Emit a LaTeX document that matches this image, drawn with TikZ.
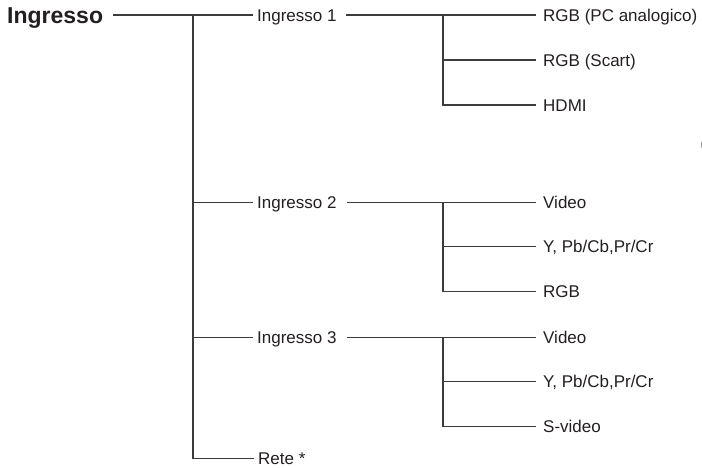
\documentclass[tikz,border=0pt]{standalone}
\usepackage{fontspec}
\setmainfont{Liberation Sans}
\definecolor{mltext}{RGB}{35,31,32}
\definecolor{mlline}{RGB}{60,60,60}
\usetikzlibrary{positioning,calc}

\begin{document}
\begin{tikzpicture}[x=1pt, y=-1pt,
    root/.style={anchor=west, inner sep=0pt, text=mltext, text height=16.5pt, text depth=0pt,
                 font=\fontsize{23}{26}\selectfont\bfseries},
    item/.style={anchor=west, inner ysep=0pt, inner xsep=4pt, text=mltext, text height=12.2pt, text depth=0pt,
                 font=\fontsize{17}{20}\selectfont},
    leaf/.style={item, inner xsep=7pt},
    conn/.style={line width=1.1pt, mlline}
  ]
    \useasboundingbox (0,0) rectangle (702,467);

    % Root
    \node[root] (ing) at (7,15) {Ingresso};
    \coordinate (trk) at (193,15);

    % Ingresso 1
    \node[item] (in1)  at (253,15)    {Ingresso 1};
    \coordinate (br1) at (443,15);
    \node[leaf] (pca)  at (536,15)    {RGB (PC analogico)};
    \node[leaf] (sca)  at (536,60)    {RGB (Scart)};
    \node[leaf] (hdmi) at (536,105)   {HDMI};

    % Ingresso 2
    \node[item] (in2)  at (253,202.7) {Ingresso 2};
    \coordinate (br2) at (443,202.7);
    \node[leaf] (vid2) at (536,202.7) {Video};
    \node[leaf] (ypb2) at (536,246.7) {Y, Pb/Cb,Pr/Cr};
    \node[leaf] (rgb2) at (536,291.7) {RGB};

    % Ingresso 3
    \node[item] (in3)  at (253,337.3) {Ingresso 3};
    \coordinate (br3) at (443,337.3);
    \node[leaf] (vid3) at (536,337.3) {Video};
    \node[leaf] (ypb3) at (536,381.7) {Y, Pb/Cb,Pr/Cr};
    \node[leaf] (svid) at (536,426.7) {S-video};

    % Rete
    \node[item] (rete) at (254,458.3) {Rete *};

    % cut-off glyph at the right edge
    \node[anchor=west, inner sep=0pt, text=mltext!70, font=\fontsize{12}{14}\selectfont] (cut) at (700.5,145) {(};

    % Connections
    \draw[conn] ([xshift=10pt]ing.east) -- (in1.west);
    \draw[conn] (trk) |- (rete.west);
    \draw[conn] (trk |- in2) -- (in2.west);
    \draw[conn] (trk |- in3) -- (in3.west);

    \draw[conn] ([xshift=5pt]in1.east) -- (pca.west);
    \draw[conn] (br1) |- (hdmi.west);
    \draw[conn] (br1 |- sca) -- (sca.west);

    \draw[conn] ([xshift=6pt]in2.east) -- (vid2.west);
    \draw[conn] (br2) |- (rgb2.west);
    \draw[conn] (br2 |- ypb2) -- (ypb2.west);

    \draw[conn] ([xshift=6pt]in3.east) -- (vid3.west);
    \draw[conn] (br3) |- (svid.west);
    \draw[conn] (br3 |- ypb3) -- (ypb3.west);
  \end{tikzpicture}
\end{document}
